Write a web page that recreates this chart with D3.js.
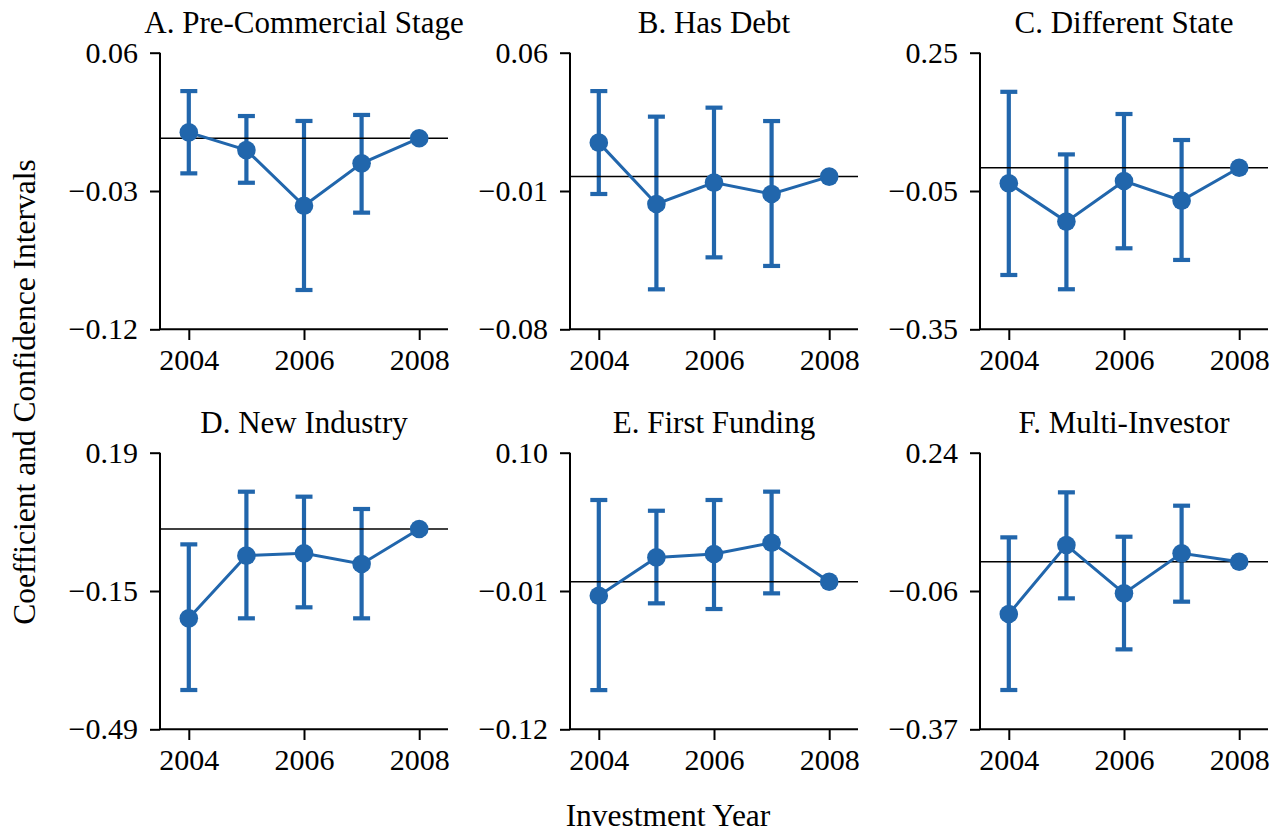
<!DOCTYPE html>
<html>
<head>
<meta charset="utf-8">
<script src="https://cdn.jsdelivr.net/npm/d3@7"></script>
<style>
  body { margin: 0; background: #fff; }
  svg text { font-family: "Liberation Serif", "Times New Roman", serif; fill: #000; }
</style>
</head>
<body>
<div id="chart"></div>
<script>
//Datos
const years = [2004, 2005, 2006, 2007, 2008];
const xTickYears = [2004, 2006, 2008];
const panelTitles = ['A. Pre-Commercial Stage', 'B. Has Debt', 'C. Different State',
                     'D. New Industry', 'E. First Funding', 'F. Multi-Investor'];

// coeficiente y extremos del intervalo (2008 = año de referencia)
const coefA = [0.0038, -0.0077, -0.0438, -0.0163, 0];
const lowA  = [-0.0228, -0.0289, -0.0985, -0.0483, null];
const highA = [0.0306, 0.0144, 0.0112, 0.0151, null];

const coefB = [0.017, -0.0137, -0.003, -0.0087, 0];
const lowB  = [-0.0087, -0.0564, -0.0404, -0.0447, null];
const highB = [0.0428, 0.030, 0.0345, 0.0278, null];

const coefC = [-0.0338, -0.117, -0.0287, -0.0715, 0];
const lowC  = [-0.233, -0.264, -0.175, -0.2003, null];
const highC = [0.165, 0.029, 0.1168, 0.0603, null];

const coefD = [-0.219, -0.0654, -0.0597, -0.0859, 0];
const lowD  = [-0.3947, -0.219, -0.192, -0.219, null];
const highD = [-0.0377, 0.0914, 0.0792, 0.049, null];

const coefE = [-0.0111, 0.0192, 0.0219, 0.0308, 0];
const lowE  = [-0.0857, -0.0171, -0.0216, -0.0092, null];
const highE = [0.0646, 0.0561, 0.0646, 0.0712, null];

const coefF = [-0.1152, 0.0367, -0.0697, 0.0184, 0];
const lowF  = [-0.2825, -0.0807, -0.193, -0.088, null];
const highF = [0.0536, 0.1527, 0.055, 0.1233, null];

// rango del eje y de cada panel y etiquetas
const yDomains = [[-0.124, 0.0555], [-0.0764, 0.062], [-0.351, 0.25],
                  [-0.491, 0.187], [-0.1167, 0.102], [-0.369, 0.24]];
const yTickLabels = [['0.06', '\u22120.03', '\u22120.12'],
                     ['0.06', '\u22120.01', '\u22120.08'],
                     ['0.25', '\u22120.05', '\u22120.35'],
                     ['0.19', '\u22120.15', '\u22120.49'],
                     ['0.10', '\u22120.01', '\u22120.12'],
                     ['0.24', '\u22120.06', '\u22120.37']];

const COLOR_MAIN = '#2166ac';
const FONT = '"Liberation Serif", "Times New Roman", serif';

const series = [[coefA, lowA, highA], [coefB, lowB, highB], [coefC, lowC, highC],
                [coefD, lowD, highD], [coefE, lowE, highE], [coefF, lowF, highF]];

const W = 1281, H = 834;
const colLeft = [160, 570, 980], rowTop = [52.7, 452.7];
const pw = 288, ph = 276.6;

let svg = d3.select('#chart').append('svg')
    .attr('width', W).attr('height', H);

series.forEach(function(s, p) {
    let col = p % 3, row = Math.floor(p / 3);
    let g = svg.append('g')
        .attr('transform', 'translate(' + colLeft[col] + ',' + rowTop[row] + ')');

    let data = years.map(function(yr, i) {
        return {year: yr, coef: s[0][i], low: s[1][i], high: s[2][i]};
    });

    let x = d3.scaleLinear().domain([2003.5, 2008.5]).range([0, pw]);
    let dom = yDomains[p];
    let y = d3.scaleLinear().domain(dom).range([ph, 0]);

    //Ejes
    let yAxis = function(sel) {
        sel.call(d3.axisLeft(y)
            .tickValues([dom[1], (dom[0] + dom[1]) / 2, dom[0]])
            .tickFormat(function(d, i) { return yTickLabels[p][i]; })
            .tickSize(10).tickPadding(12));
        sel.attr('font-family', FONT).attr('font-size', 30);
        sel.select('.domain').attr('stroke-width', 2).attr('d', 'M0,' + ph + 'V0');
        sel.selectAll('.tick line').attr('stroke-width', 2);
    };
    let xAxis = function(sel) {
        sel.call(d3.axisBottom(x).tickValues(xTickYears)
            .tickFormat(d3.format('d')).tickSize(10.7).tickPadding(9));
        sel.attr('font-family', FONT).attr('font-size', 30);
        sel.select('.domain').attr('stroke-width', 2).attr('d', 'M0,0H' + pw);
        sel.selectAll('.tick line').attr('stroke-width', 2);
    };

    g.append('g').call(yAxis);
    g.append('g').attr('transform', 'translate(0,' + ph + ')').call(xAxis);

    //Barras de error
    let withCi = data.filter(function(d) { return d.low !== null; });
    g.selectAll('.ci').data(withCi).enter().append('line')
        .attr('x1', function(d) { return x(d.year); })
        .attr('x2', function(d) { return x(d.year); })
        .attr('y1', function(d) { return y(d.low); })
        .attr('y2', function(d) { return y(d.high); })
        .attr('stroke', COLOR_MAIN).attr('stroke-width', 4.2);
    ['low', 'high'].forEach(function(k) {
        g.selectAll('.cap-' + k).data(withCi).enter().append('line')
            .attr('x1', function(d) { return x(d.year) - 8.5; })
            .attr('x2', function(d) { return x(d.year) + 8.5; })
            .attr('y1', function(d) { return y(d[k]); })
            .attr('y2', function(d) { return y(d[k]); })
            .attr('stroke', COLOR_MAIN).attr('stroke-width', 4.2);
    });

    //Línea de referencia en cero
    g.append('line')
        .attr('x1', 0).attr('x2', pw)
        .attr('y1', y(0)).attr('y2', y(0))
        .attr('stroke', '#000').attr('stroke-width', 1.5);

    //Línea y puntos
    g.append('path').datum(data)
        .attr('fill', 'none').attr('stroke', COLOR_MAIN).attr('stroke-width', 3)
        .attr('d', d3.line().x(function(d) { return x(d.year); }).y(function(d) { return y(d.coef); }));

    g.selectAll('.dot').data(data).enter().append('circle')
        .attr('cx', function(d) { return x(d.year); })
        .attr('cy', function(d) { return y(d.coef); })
        .attr('r', 9.3)
        .attr('fill', COLOR_MAIN);

    //Título
    g.append('text')
        .attr('x', pw / 2).attr('y', -19.7)
        .attr('text-anchor', 'middle')
        .style('font-size', '31px')
        .text(panelTitles[p]);
});

//Etiquetas de los ejes
svg.append('text')
    .attr('transform', 'translate(35,392) rotate(-90)')
    .attr('text-anchor', 'middle')
    .style('font-size', '31.5px')
    .text('Coefficient and Confidence Intervals');

svg.append('text')
    .attr('x', 668).attr('y', 826)
    .attr('text-anchor', 'middle')
    .style('font-size', '31.5px')
    .text('Investment Year');
</script>
</body>
</html>
